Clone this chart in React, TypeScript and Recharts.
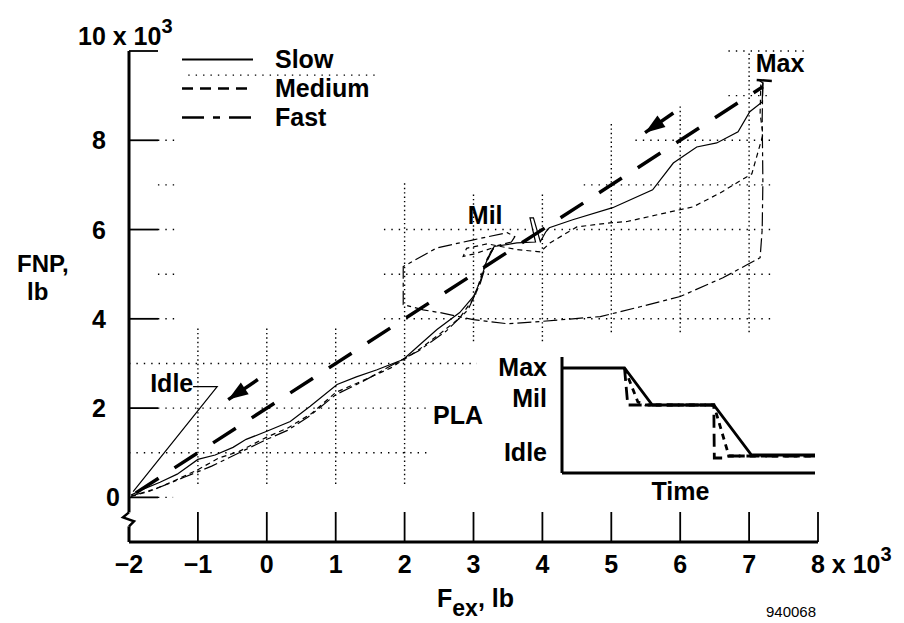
import React from "react";
import {
  ComposedChart,
  LineChart,
  Line,
  XAxis,
  YAxis,
  ReferenceLine,
  ReferenceDot,
  Legend,
} from "recharts";

const FONT = "'Liberation Sans', Arial, Helvetica, sans-serif";

// main plot: thrust F_ex (x 10^3 lb) vs FNP (x 10^3 lb)
const xTicks = [-2, -1, 0, 1, 2, 3, 4, 5, 6, 7, 8];
const yTicks = [0, 2, 4, 6, 8, 10];
const seriesNames = ["Slow", "Medium", "Fast"];

const slow = [
  { x: -1.97, y: 0.05 }, { x: -1.8, y: 0.18 }, { x: -1.55, y: 0.34 }, { x: -1.3, y: 0.52 },
  { x: -1.0, y: 0.85 }, { x: -0.75, y: 0.95 }, { x: -0.49, y: 1.12 }, { x: -0.3, y: 1.3 },
  { x: 0, y: 1.48 }, { x: 0.34, y: 1.7 }, { x: 0.63, y: 2.04 }, { x: 1.02, y: 2.53 },
  { x: 1.3, y: 2.7 }, { x: 1.6, y: 2.86 }, { x: 1.98, y: 3.09 }, { x: 2.22, y: 3.42 },
  { x: 2.47, y: 3.76 }, { x: 2.8, y: 4.14 }, { x: 3.0, y: 4.5 }, { x: 3.1, y: 4.85 },
  { x: 3.18, y: 5.25 }, { x: 3.25, y: 5.5 }, { x: 3.3, y: 5.62 }, { x: 3.63, y: 5.7 },
  { x: 3.9, y: 5.72 }, { x: 3.82, y: 6.26 }, { x: 3.87, y: 6.26 }, { x: 3.97, y: 5.73 },
  { x: 4.05, y: 5.95 }, { x: 4.1, y: 6.04 }, { x: 4.44, y: 6.22 }, { x: 5.02, y: 6.49 },
  { x: 5.6, y: 6.89 }, { x: 5.9, y: 7.49 }, { x: 6.24, y: 7.85 }, { x: 6.53, y: 7.94 },
  { x: 6.84, y: 8.19 }, { x: 7.01, y: 8.64 }, { x: 7.19, y: 8.86 }, { x: 7.2, y: 9.28 },
  { x: 7.14, y: 9.35 },
];

const medium = [
  { x: -1.97, y: 0.02 }, { x: -1.7, y: 0.14 }, { x: -1.4, y: 0.33 }, { x: -1.0, y: 0.62 },
  { x: -0.7, y: 0.88 }, { x: -0.4, y: 1.03 }, { x: 0, y: 1.35 }, { x: 0.3, y: 1.55 },
  { x: 0.65, y: 1.88 }, { x: 1.0, y: 2.35 }, { x: 1.4, y: 2.62 }, { x: 1.8, y: 2.9 },
  { x: 2.2, y: 3.3 }, { x: 2.5, y: 3.65 }, { x: 2.8, y: 4.02 }, { x: 3.02, y: 4.5 },
  { x: 3.12, y: 5.0 }, { x: 3.2, y: 5.35 }, { x: 3.3, y: 5.6 }, { x: 3.0, y: 5.45 },
  { x: 2.85, y: 5.4 }, { x: 2.9, y: 5.58 }, { x: 3.2, y: 5.68 }, { x: 3.63, y: 5.55 },
  { x: 3.97, y: 5.5 }, { x: 4.11, y: 5.7 }, { x: 4.5, y: 6.06 }, { x: 4.98, y: 6.15 },
  { x: 5.23, y: 6.18 }, { x: 5.81, y: 6.38 }, { x: 6.19, y: 6.51 }, { x: 6.58, y: 6.82 },
  { x: 7.04, y: 7.25 }, { x: 7.19, y: 8.07 }, { x: 7.2, y: 8.12 }, { x: 7.16, y: 8.61 },
  { x: 7.17, y: 9.25 },
];

const fast = [
  { x: 7.2, y: 9.3 }, { x: 7.19, y: 8.5 }, { x: 7.2, y: 7.07 }, { x: 7.19, y: 6.0 },
  { x: 7.16, y: 5.37 }, { x: 6.97, y: 5.21 }, { x: 6.62, y: 4.92 }, { x: 6.0, y: 4.5 },
  { x: 5.42, y: 4.27 }, { x: 4.84, y: 4.05 }, { x: 4.44, y: 4.0 }, { x: 3.97, y: 3.94 },
  { x: 3.49, y: 3.89 }, { x: 3.0, y: 3.98 }, { x: 2.51, y: 4.14 }, { x: 2.27, y: 4.2 },
  { x: 1.98, y: 4.32 }, { x: 1.98, y: 5.17 }, { x: 2.47, y: 5.59 }, { x: 3.0, y: 5.77 },
  { x: 3.49, y: 5.93 }, { x: 3.6, y: 5.84 }, { x: 3.55, y: 5.72 }, { x: 3.3, y: 5.62 },
  { x: 3.2, y: 5.3 }, { x: 3.1, y: 4.8 }, { x: 2.92, y: 4.2 }, { x: 2.6, y: 3.72 },
  { x: 2.2, y: 3.28 }, { x: 1.8, y: 2.95 }, { x: 1.4, y: 2.6 }, { x: 1.0, y: 2.3 },
  { x: 0.6, y: 1.8 }, { x: 0.3, y: 1.5 }, { x: 0, y: 1.3 }, { x: -0.4, y: 1.0 },
  { x: -0.8, y: 0.7 }, { x: -1.2, y: 0.45 }, { x: -1.6, y: 0.2 }, { x: -1.97, y: 0.03 },
];

// PLA direction line + arrows, annotations
const plaLine = [{ x: -1.9, y: 0.1 }, { x: 7.2, y: 9.2 }];
const arrowUpper = [{ x: 5.9, y: 8.61 }, { x: 5.49, y: 8.17 }];
const arrowLower = [{ x: -0.13, y: 2.64 }, { x: -0.56, y: 2.19 }];
const idleLeader = [{ x: -1.07, y: 2.48 }, { x: -0.72, y: 2.48 }, { x: -1.94, y: 0.13 }];
const maxMarker = [{ x: 7.33, y: 9.33 }, { x: 7.11, y: 9.35 }];
const annotations = [
  { text: "Idle", x: -1.38, y: 2.55 },
  { text: "Mil", x: 3.17, y: 6.33 },
  { text: "Max", x: 7.45, y: 9.73 },
];

// dotted grid fragments: [y, x1, x2] and [x, y1, y2]
const gridRows = [
  [0, -1.58, -1.36], [1, -2, 2.35], [2, -1.58, 2.35], [3, -2, 3.05],
  [4, -1.58, -1.3], [4, 1.7, 7.35], [5, -1.58, -1.3], [5, 1.7, 7.35],
  [6, -1.58, -1.3], [6, 1.7, 7.35], [7, -1.58, -1.3], [7, 4.6, 7.35],
  [8, -1.58, -1.3], [8, 5.35, 7.35], [9, 6.7, 7.3], [9.46, -1.14, 1.6],
  [10, 6.7, 7.85],
];
const gridCols = [
  [-1, 0.3, 3.8], [0, 0.3, 3.8], [1, 0.3, 3.8], [2, 0.3, 7.1], [3, 3.5, 6.8],
  [4, 3.5, 6.8], [5, 3.7, 8.4], [6, 3.7, 8.8], [7, 3.7, 10],
];

// inset: PLA schedule vs time
const insetTicks = [18, 68, 105];
const insetLabels: Record<number, string> = { 18: "Idle", 68: "Mil", 105: "Max" };
const insetSlow = [
  { t: 0, v: 105 }, { t: 2.47, v: 105 }, { t: 3.57, v: 68 }, { t: 6.0, v: 68 },
  { t: 7.49, v: 18 }, { t: 10, v: 18 },
];
const insetMedium = [
  { t: 2.47, v: 105 }, { t: 3.0, v: 71 }, { t: 3.3, v: 68 }, { t: 6.0, v: 68 },
  { t: 6.6, v: 17 }, { t: 10, v: 17 },
];
const insetFast = [
  { t: 2.47, v: 105 }, { t: 2.6, v: 68 }, { t: 6.0, v: 68 }, { t: 6.02, v: 15 },
  { t: 6.4, v: 15 }, { t: 6.5, v: 17 }, { t: 10, v: 17 },
];

const boldText = { fill: "#000", fontFamily: FONT, fontWeight: 700, fontSize: 25 };

function MainXTick(props: any) {
  const { x, y, payload } = props;
  const v = payload.value;
  return (
    <g>
      <line x1={x} x2={x} y1={y} y2={y - 30} stroke="#000" strokeWidth={1.8} />
      {v === 8 ? (
        <text x={x - 7} y={y + 31} textAnchor="start" {...boldText}>
          8 x 10<tspan dy={-12} fontSize={20}>3</tspan>
        </text>
      ) : (
        <text x={x} y={y + 31} textAnchor="middle" {...boldText}>
          {v < 0 ? `\u2212${-v}` : `${v}`}
        </text>
      )}
    </g>
  );
}

function MainYTick(props: any) {
  const { x, y, payload } = props;
  const v = payload.value;
  return (
    <g>
      <line x1={x} x2={x + 29} y1={y} y2={y} stroke="#000" strokeWidth={1.8} />
      {v === 10 ? (
        <text x={x - 51} y={y - 6} textAnchor="start" {...boldText}>
          10 x 10<tspan dy={-12} fontSize={20}>3</tspan>
        </text>
      ) : (
        <text x={v === 0 ? x - 16 : x - 30} y={y} dy="0.36em" textAnchor="middle" {...boldText}>
          {v}
        </text>
      )}
      {v === 0 && (
        <g>
          <rect x={x - 3} y={y + 15} width={6} height={14} fill="#fff" />
          <path
            d={`M${x},${y + 15} L${x - 6},${y + 20} L${x + 5},${y + 24} L${x},${y + 29}`}
            fill="none"
            stroke="#000"
            strokeWidth={2.5}
          />
        </g>
      )}
    </g>
  );
}

// inset labels sit a little above their levels in the original
const insetLabelShift: Record<number, number> = { 18: -3, 68: -7, 105: -1 };

function InsetYTick(props: any) {
  const { x, y, payload } = props;
  const v = payload.value;
  return (
    <text x={x} y={y + (insetLabelShift[v] || 0)} dy="0.36em" textAnchor="end" {...boldText}>
      {insetLabels[v]}
    </text>
  );
}

function ArrowHead(props: any) {
  const { cx, cy, index, points } = props;
  if (index !== 1 || !points || !points[0]) return <g key={`ah-${index}`} />;
  const p0 = points[0];
  const ang = Math.atan2(cy - p0.y, cx - p0.x);
  const len = 20;
  const half = 7;
  const bx = cx - len * Math.cos(ang);
  const by = cy - len * Math.sin(ang);
  const nx = -Math.sin(ang) * half;
  const ny = Math.cos(ang) * half;
  return (
    <path
      key={`ah-${index}`}
      d={`M${cx},${cy} L${bx + nx},${by + ny} L${bx - nx},${by - ny} Z`}
      fill="#000"
      stroke="none"
    />
  );
}

const legendDash: Record<string, string | undefined> = {
  Slow: undefined,
  Medium: "11 7",
  Fast: "22 9 7 9",
};

function LegendBox() {
  return (
    <div style={{ fontFamily: FONT, fontWeight: 700, fontSize: 25, color: "#000" }}>
      {seriesNames.map((name) => (
        <div key={name} style={{ display: "flex", alignItems: "center", height: 29 }}>
          <svg width={97} height={29}>
            <line
              x1={4}
              x2={75}
              y1={14.5}
              y2={14.5}
              stroke="#000"
              strokeWidth={name === "Slow" ? 2 : 2.5}
              strokeDasharray={legendDash[name]}
            />
          </svg>
          <span style={{ lineHeight: "29px" }}>{name}</span>
        </div>
      ))}
    </div>
  );
}

function XTitle(props: any) {
  const vb = props.viewBox || { x: 129, y: 542, width: 689, height: 81 };
  return (
    <g>
      <text x={vb.x + vb.width / 2 + 2} y={vb.y + 65} textAnchor="middle" {...boldText}>
        F<tspan dy={9} fontSize={23}>ex</tspan>
        <tspan dy={-9}>, lb</tspan>
      </text>
      <text
        x={vb.x + 662}
        y={vb.y + 75}
        textAnchor="middle"
        fill="#000"
        fontFamily={FONT}
        fontSize={15}
      >
        940068
      </text>
    </g>
  );
}

function YTitle(props: any) {
  const vb = props.viewBox || { x: 0, y: 51, width: 129, height: 491 };
  return (
    <g>
      <text x={vb.x + 17} y={vb.y + 221} textAnchor="start" {...boldText} fontSize={24}>
        FNP,
      </text>
      <text x={vb.x + 27} y={vb.y + 249} textAnchor="start" {...boldText} fontSize={24}>
        lb
      </text>
    </g>
  );
}

export default function App() {
  return (
    <div
      style={{
        position: "absolute",
        left: 0,
        top: 0,
        width: 904,
        height: 623,
        background: "#fff",
        fontFamily: FONT,
      }}
    >
      <ComposedChart width={904} height={623} margin={{ top: 51, right: 86, bottom: 0, left: 0 }}>
        <XAxis
          type="number"
          dataKey="x"
          domain={[-2, 8]}
          ticks={xTicks}
          allowDataOverflow
          height={81}
          axisLine={{ stroke: "#000", strokeWidth: 3 }}
          tickLine={false}
          tickSize={0}
          tickMargin={0}
          tick={<MainXTick />}
          interval={0}
          label={{ content: XTitle }}
        />
        <YAxis
          type="number"
          domain={[-1, 10]}
          ticks={yTicks}
          allowDataOverflow
          width={129}
          axisLine={{ stroke: "#000", strokeWidth: 3 }}
          tickLine={false}
          tickSize={0}
          tickMargin={0}
          tick={<MainYTick />}
          interval={0}
          label={{ content: YTitle }}
        />
        <Legend
          layout="vertical"
          align="center"
          verticalAlign="middle"
          wrapperStyle={{ left: 178, top: 45, width: 220 }}
          content={<LegendBox />}
        />

        {gridRows.map(([y, x1, x2], i) => (
          <ReferenceLine
            key={`gr-${i}`}
            segment={[{ x: x1, y }, { x: x2, y }]}
            stroke="#000"
            strokeWidth={1.4}
            strokeDasharray="1.4 6"
            ifOverflow="visible"
          />
        ))}
        {gridCols.map(([x, y1, y2], i) => (
          <ReferenceLine
            key={`gc-${i}`}
            segment={[{ x, y: y1 }, { x, y: y2 }]}
            stroke="#000"
            strokeWidth={1.4}
            strokeDasharray="1.4 3"
            ifOverflow="visible"
          />
        ))}

        <Line data={slow} dataKey="y" name="Slow" type="linear" stroke="#000" strokeWidth={1.2}
          dot={false} isAnimationActive={false} legendType="none" />
        <Line data={medium} dataKey="y" name="Medium" type="linear" stroke="#000" strokeWidth={1.2}
          strokeDasharray="5 4" dot={false} isAnimationActive={false} legendType="none" />
        <Line data={fast} dataKey="y" name="Fast" type="linear" stroke="#000" strokeWidth={1.2}
          strokeDasharray="14 4 4 4" dot={false} isAnimationActive={false} legendType="none" />

        <Line data={plaLine} dataKey="y" type="linear" stroke="#000" strokeWidth={3.5}
          strokeDasharray="27 19" dot={false} isAnimationActive={false} legendType="none" />
        <Line data={arrowUpper} dataKey="y" type="linear" stroke="#000" strokeWidth={3.5}
          dot={ArrowHead} isAnimationActive={false} legendType="none" />
        <Line data={arrowLower} dataKey="y" type="linear" stroke="#000" strokeWidth={3.5}
          dot={ArrowHead} isAnimationActive={false} legendType="none" />
        <Line data={idleLeader} dataKey="y" type="linear" stroke="#000" strokeWidth={1.2}
          dot={false} isAnimationActive={false} legendType="none" />
        <Line data={maxMarker} dataKey="y" type="linear" stroke="#000" strokeWidth={2.5}
          dot={false} isAnimationActive={false} legendType="none" />

        {annotations.map((a) => (
          <ReferenceDot
            key={a.text}
            x={a.x}
            y={a.y}
            r={0}
            fill="none"
            stroke="none"
            ifOverflow="visible"
            label={{ value: a.text, position: "center", ...boldText }}
          />
        ))}
      </ComposedChart>

      <div style={{ position: "absolute", left: 428, top: 340 }}>
        <LineChart width={402} height={180} margin={{ top: 17, right: 15, bottom: 0, left: 0 }}>
          <XAxis
            type="number"
            dataKey="t"
            domain={[0, 10]}
            height={47}
            tick={false}
            tickLine={false}
            axisLine={{ stroke: "#000", strokeWidth: 3 }}
            label={{ value: "Time", position: "insideTop", offset: 9, dx: -8, ...boldText }}
          />
          <YAxis
            type="number"
            domain={[0, 116]}
            ticks={insetTicks}
            width={134}
            interval={0}
            tickLine={false}
            tickSize={0}
            tickMargin={15}
            tick={<InsetYTick />}
            axisLine={{ stroke: "#000", strokeWidth: 3 }}
            label={{ value: "PLA", position: "insideLeft", offset: 5, ...boldText }}
          />
          <Line data={insetSlow} dataKey="v" type="linear" stroke="#000" strokeWidth={2.8}
            dot={false} isAnimationActive={false} />
          <Line data={insetMedium} dataKey="v" type="linear" stroke="#000" strokeWidth={2.8}
            strokeDasharray="6 5" dot={false} isAnimationActive={false} />
          <Line data={insetFast} dataKey="v" type="linear" stroke="#000" strokeWidth={2.8}
            strokeDasharray="13 6" dot={false} isAnimationActive={false} />
        </LineChart>
      </div>
    </div>
  );
}
